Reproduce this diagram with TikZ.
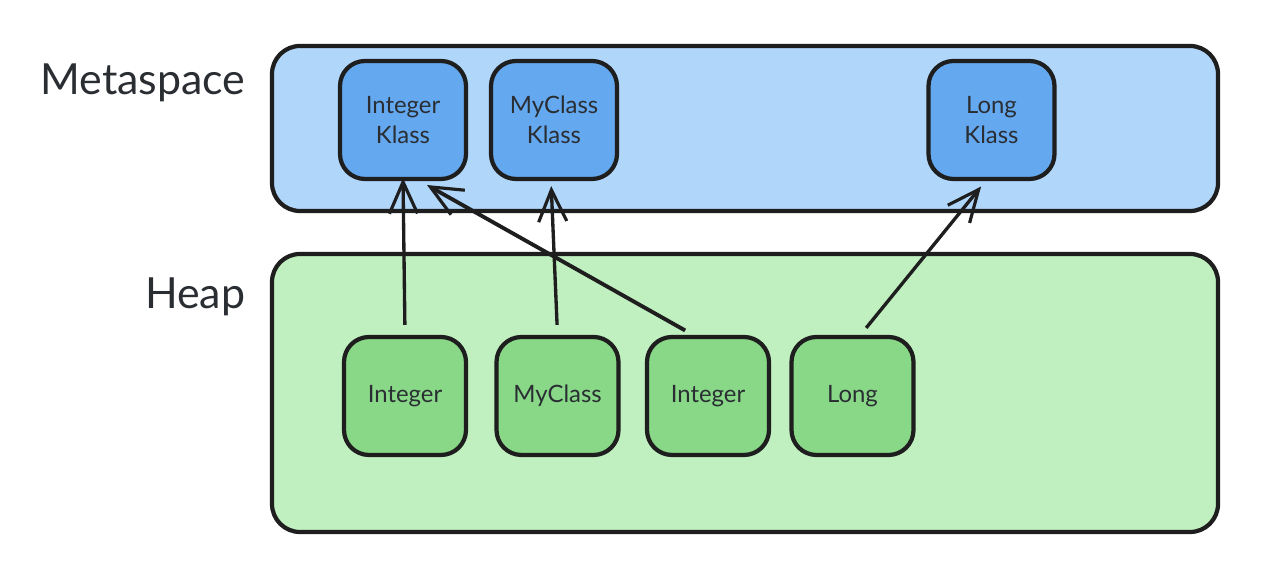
\documentclass[tikz,border=0pt]{standalone}
\usepackage{fontspec}
\setmainfont{Lato}
\usepackage{xcolor}
\usepackage{tikz}
\usetikzlibrary{positioning,calc,arrows.meta}
\definecolor{metafill}{HTML}{B0D6FA}
\definecolor{klassfill}{HTML}{64A8EF}
\definecolor{heapfill}{HTML}{C0F0C0}
\definecolor{objfill}{HTML}{88D888}
\definecolor{inkdark}{HTML}{1E1E1E}
\definecolor{txtdark}{HTML}{2A2E33}

\begin{document}
\begin{tikzpicture}[
  area/.style={draw=inkdark, line width=1.2pt, rounded corners=0.28cm},
  klass/.style={draw=inkdark, fill=klassfill, line width=1.2pt, rounded corners=0.25cm,
    minimum width=1.26cm, minimum height=1.18cm, align=center,
    font=\fontsize{6.8}{8.5}\selectfont\color{txtdark}, inner sep=0pt},
  obj/.style={draw=inkdark, fill=objfill, line width=1.2pt, rounded corners=0.25cm,
    minimum width=1.22cm, minimum height=1.18cm, align=center,
    font=\fontsize{6.8}{8.5}\selectfont\color{txtdark}, inner sep=0pt},
  ref/.style={-{Straight Barb[length=9pt, width=8pt, line width=0.9pt]}, draw=inkdark, line width=0.95pt},
  title/.style={font=\fontsize{12.2}{14}\selectfont\color{txtdark}, anchor=east, inner sep=0pt},
]
\useasboundingbox (0,0) rectangle (12.62,5.78);
% ---------- areas ----------
\draw[area, fill=metafill] (2.72,3.67) rectangle (12.18,5.32);
\draw[area, fill=heapfill] (2.72,0.46) rectangle (12.18,3.24);
\node[title] (metalbl) at (2.46,4.95) {Metaspace};
\node[title] (heaplbl) at (2.46,2.81) {Heap};
% ---------- class metadata in metaspace ----------
\foreach \name/\x/\txt in {kint/4.03/{Integer\\Klass}, kmy/5.54/{MyClass\\Klass}, klong/9.915/{Long\\Klass}} {
  \node[klass] (\name) at (\x,4.58) {\txt};
}
% ---------- objects on the heap ----------
\foreach \name/\x/\txt in {oint/4.05/Integer, omy/5.575/MyClass, ointb/7.08/Integer, olong/8.525/Long} {
  \node[obj] (\name) at (\x,1.82) {\txt};
}
% ---------- klass pointers ----------
\draw[ref, shorten <=0.1cm] (oint.north) -- ([yshift=0.03cm]kint.south);
\draw[ref, shorten <=0.1cm, shorten >=0.05cm] (omy.north) -- ([xshift=-0.03cm]kmy.south);
\draw[ref, line width=1.1pt, shorten <=0.09cm, shorten >=0.08cm] ([xshift=-0.15cm]ointb.north) -- ([xshift=0.17cm]kint.south);
\draw[ref, shorten <=0.09cm, shorten >=0.07cm] ([xshift=0.08cm]olong.north) -- ([xshift=-0.06cm]klong.south);
\end{tikzpicture}
\end{document}
